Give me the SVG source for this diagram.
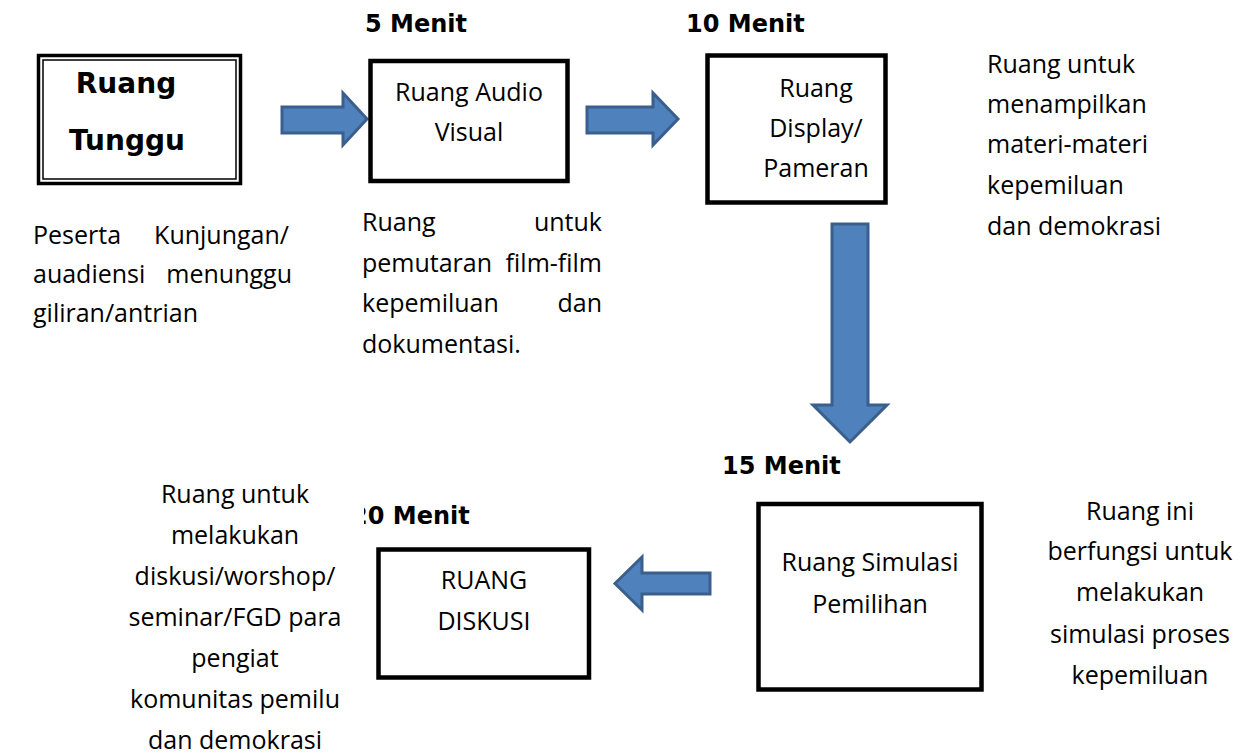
<svg xmlns="http://www.w3.org/2000/svg" width="1244" height="754" viewBox="0 0 1244 754">
<style>
.t{font-family:"Open Sans","Noto Sans","Liberation Sans",sans-serif;font-size:25px;fill:#000}
.c{text-anchor:middle}
.e{text-anchor:end}
.b{font-family:"DejaVu Sans","Verdana",sans-serif;font-weight:bold;fill:#000}
.box{fill:#fff;stroke:#000;stroke-width:4.5}
.arr{fill:#4F81BD;stroke:#3A5F8C;stroke-width:3;stroke-linejoin:miter}
</style>
<defs>
<clipPath id="clip20"><rect x="364" y="495" width="200" height="40"/></clipPath>
</defs>
<rect width="1244" height="754" fill="#fff"/>

<g id="connectors">
<path class="arr" d="M282,107 H343 V93 L367,119 L343,145 V133 H282 Z"/>
<path class="arr" d="M587,107 H653 V93 L678,119 L653,145 V133 H587 Z"/>
<path class="arr" d="M832,224 H868 V405 H887 L850,442 L813,405 H832 Z"/>
<path class="arr" d="M710,573 V594 H642 V610 L615,583.5 L642,557 V573 Z"/>
</g>

<g id="ruang-tunggu">
<rect x="38.5" y="55.5" width="202" height="128" fill="#fff" stroke="#000" stroke-width="3.5"/>
<rect x="43" y="60" width="193" height="119" fill="none" stroke="#000" stroke-width="1.5"/>
<text class="b c" x="126" y="93" font-size="28">Ruang</text>
<text class="b c" x="127" y="150" font-size="28">Tunggu</text>
</g>
<g id="ruang-tunggu-desc">
<text class="t" x="33" y="244">Peserta</text>
<text class="t e" x="289" y="244">Kunjungan/</text>
<text class="t" x="33" y="283">auadiensi</text>
<text class="t e" x="292" y="283">menunggu</text>
<text class="t" x="33" y="322">giliran/antrian</text>
</g>

<g id="audio-visual">
<text class="b" x="365" y="32" font-size="24">5 Menit</text>
<rect class="box" x="370.5" y="61" width="197" height="120"/>
<text class="t c" x="469" y="101">Ruang Audio</text>
<text class="t c" x="469" y="141">Visual</text>
</g>
<g id="audio-visual-desc">
<text class="t" x="362" y="231">Ruang</text>
<text class="t e" x="602" y="231">untuk</text>
<text class="t" x="362" y="272">pemutaran</text>
<text class="t e" x="602" y="272">film-film</text>
<text class="t" x="362" y="312">kepemiluan</text>
<text class="t e" x="602" y="312">dan</text>
<text class="t" x="362" y="353">dokumentasi.</text>
</g>

<g id="display">
<text class="b" x="686" y="32" font-size="24">10 Menit</text>
<rect class="box" x="707.5" y="55.5" width="178" height="147"/>
<text class="t c" x="816" y="97">Ruang</text>
<text class="t c" x="816" y="137">Display/</text>
<text class="t c" x="816" y="177">Pameran</text>
</g>
<g id="display-desc">
<text class="t" x="987" y="73">Ruang untuk</text>
<text class="t" x="987" y="113">menampilkan</text>
<text class="t" x="987" y="153">materi-materi</text>
<text class="t" x="987" y="194">kepemiluan</text>
<text class="t" x="987" y="235">dan demokrasi</text>
</g>

<g id="simulasi">
<text class="b" x="722" y="474" font-size="24">15 Menit</text>
<rect class="box" x="758.5" y="504" width="223" height="185.5"/>
<text class="t c" x="870" y="571">Ruang Simulasi</text>
<text class="t c" x="870" y="613">Pemilihan</text>
</g>
<g id="simulasi-desc">
<text class="t c" x="1140" y="520">Ruang ini</text>
<text class="t c" x="1140" y="560">berfungsi untuk</text>
<text class="t c" x="1140" y="601">melakukan</text>
<text class="t c" x="1140" y="643">simulasi proses</text>
<text class="t c" x="1140" y="684">kepemiluan</text>
</g>

<g id="diskusi">
<text class="b" x="351" y="524" font-size="24" clip-path="url(#clip20)">20 Menit</text>
<rect class="box" x="378.5" y="549.5" width="210.5" height="128"/>
<text class="t c" x="484" y="589">RUANG</text>
<text class="t c" x="484" y="630">DISKUSI</text>
</g>
<g id="diskusi-desc">
<text class="t c" x="235" y="503">Ruang untuk</text>
<text class="t c" x="235" y="544">melakukan</text>
<text class="t c" x="235" y="585">diskusi/worshop/</text>
<text class="t c" x="235" y="626">seminar/FGD para</text>
<text class="t c" x="235" y="667">pengiat</text>
<text class="t c" x="235" y="708">komunitas pemilu</text>
<text class="t c" x="235" y="749">dan demokrasi</text>
</g>
</svg>
